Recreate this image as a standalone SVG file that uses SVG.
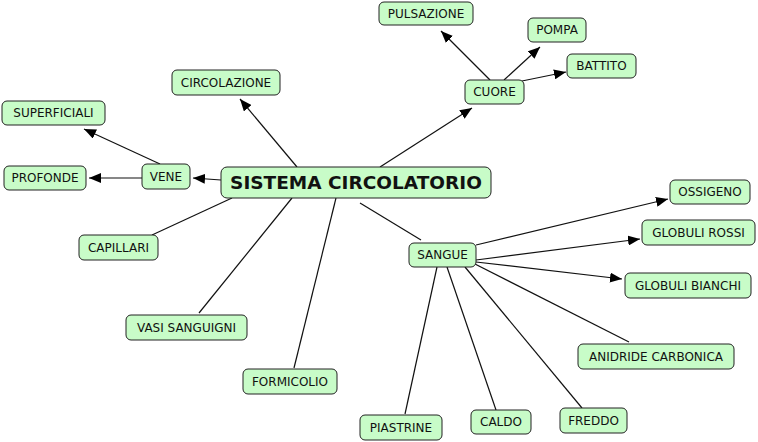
<svg xmlns="http://www.w3.org/2000/svg" width="758" height="442" viewBox="0 0 758 442">
<style>
.n rect{fill:#c8fcc8;stroke:#222;stroke-width:1}
.n text{font-family:"DejaVu Sans",Verdana,sans-serif;font-size:12px;fill:#111;text-anchor:middle}
.m text{font-size:18.5px;font-weight:bold}
.c line{stroke:#111;stroke-width:1.2}
.a{marker-end:url(#ar)}
</style>
<defs>
<marker id="ar" viewBox="0 0 12 10" refX="12" refY="5" markerWidth="12" markerHeight="10" markerUnits="userSpaceOnUse" orient="auto">
<path d="M0,0 L12,5 L0,10 Z" fill="#000"/>
</marker>
</defs>
<rect width="758" height="442" fill="#fff"/>
<g class="c">
<line class="a" x1="297" y1="167" x2="240" y2="99"/>
<line class="a" x1="380" y1="167" x2="472" y2="108"/>
<line class="a" x1="221" y1="180" x2="193" y2="178"/>
<line class="a" x1="160" y1="164" x2="84" y2="129"/>
<line class="a" x1="142" y1="178" x2="89" y2="178"/>
<line class="a" x1="490" y1="80" x2="441" y2="31"/>
<line class="a" x1="504" y1="80" x2="540" y2="47"/>
<line class="a" x1="522" y1="81" x2="566" y2="72"/>
<line x1="232" y1="198" x2="152" y2="235"/>
<line x1="292" y1="198" x2="199" y2="313"/>
<line x1="336" y1="198" x2="294" y2="368"/>
<line x1="360" y1="203" x2="421" y2="240"/>
<line class="a" x1="476" y1="245" x2="668" y2="199"/>
<line class="a" x1="476" y1="260" x2="640" y2="239"/>
<line class="a" x1="476" y1="262" x2="622" y2="279"/>
<line x1="473" y1="263" x2="629" y2="342"/>
<line x1="437" y1="267" x2="405" y2="414"/>
<line x1="447" y1="267" x2="496" y2="410"/>
<line x1="465" y1="267" x2="582" y2="408"/>
</g>
<g id="pulsazione" class="n"><rect x="379" y="2" width="94" height="23" rx="5"/><text x="426" y="18">PULSAZIONE</text></g>
<g id="pompa" class="n"><rect x="528" y="18" width="58" height="24" rx="5"/><text x="557" y="34">POMPA</text></g>
<g id="battito" class="n"><rect x="567" y="54" width="69" height="24" rx="5"/><text x="601.5" y="70">BATTITO</text></g>
<g id="cuore" class="n"><rect x="465" y="80" width="59" height="24" rx="5"/><text x="494.5" y="96">CUORE</text></g>
<g id="circolazione" class="n"><rect x="172" y="70" width="108" height="25" rx="5"/><text x="226" y="87">CIRCOLAZIONE</text></g>
<g id="superficiali" class="n"><rect x="2" y="101" width="103" height="24" rx="5"/><text x="53.5" y="117">SUPERFICIALI</text></g>
<g id="profonde" class="n"><rect x="4" y="166" width="82" height="24" rx="5"/><text x="45" y="182">PROFONDE</text></g>
<g id="vene" class="n"><rect x="142" y="164" width="48" height="25" rx="5"/><text x="166" y="181">VENE</text></g>
<g id="sistema" class="n m"><rect x="221" y="167" width="270" height="31" rx="6"/><text x="356" y="189">SISTEMA CIRCOLATORIO</text></g>
<g id="capillari" class="n"><rect x="79" y="235" width="79" height="25" rx="5"/><text x="118.5" y="252">CAPILLARI</text></g>
<g id="vasi" class="n"><rect x="126" y="315" width="121" height="25" rx="5"/><text x="186.5" y="332">VASI SANGUIGNI</text></g>
<g id="formicolio" class="n"><rect x="243" y="369" width="94" height="25" rx="5"/><text x="290" y="386">FORMICOLIO</text></g>
<g id="sangue" class="n"><rect x="409" y="243" width="67" height="24" rx="5"/><text x="442.5" y="259">SANGUE</text></g>
<g id="ossigeno" class="n"><rect x="670" y="180" width="80" height="24" rx="5"/><text x="710" y="196">OSSIGENO</text></g>
<g id="globulirossi" class="n"><rect x="642" y="220" width="113" height="25" rx="5"/><text x="698.5" y="237">GLOBULI ROSSI</text></g>
<g id="globulibianchi" class="n"><rect x="625" y="273" width="126" height="25" rx="5"/><text x="688" y="290">GLOBULI BIANCHI</text></g>
<g id="anidride" class="n"><rect x="578" y="344" width="156" height="25" rx="5"/><text x="656" y="361">ANIDRIDE CARBONICA</text></g>
<g id="piastrine" class="n"><rect x="360" y="415" width="82" height="25" rx="5"/><text x="401" y="432">PIASTRINE</text></g>
<g id="caldo" class="n"><rect x="471" y="410" width="60" height="24" rx="5"/><text x="501" y="426">CALDO</text></g>
<g id="freddo" class="n"><rect x="560" y="408" width="67" height="25" rx="5"/><text x="593.5" y="425">FREDDO</text></g>
</svg>
